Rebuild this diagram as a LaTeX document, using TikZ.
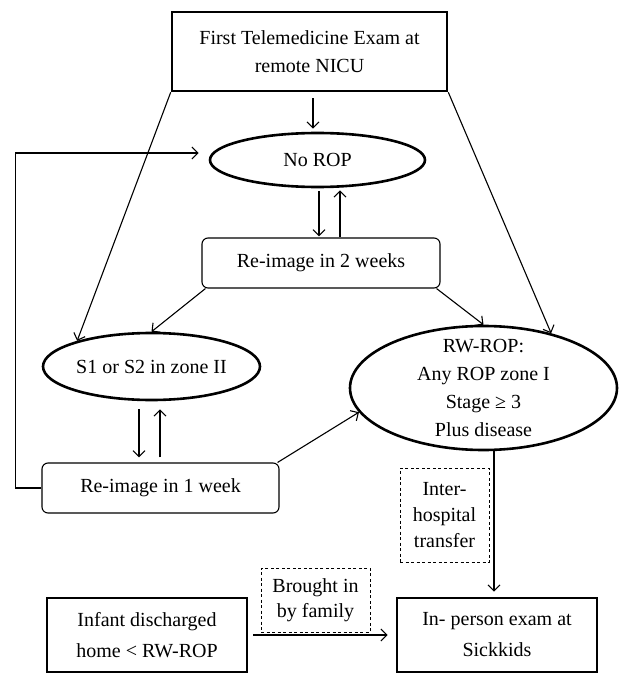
\documentclass[tikz,border=0pt]{standalone}
\usepackage{fontspec}
\setmainfont{Liberation Serif}
\usetikzlibrary{shapes.geometric,arrows.meta,calc}
\begin{document}
\begin{tikzpicture}[x=1pt,y=-1pt,
  font=\fontsize{20}{28}\selectfont,
  thickbox/.style={draw, line width=2.6pt, inner sep=0pt, align=center},
  roundbox/.style={draw, line width=1.1pt, rounded corners=6pt, inner sep=0pt, align=center},
  dashbox/.style={draw, line width=1pt, dash pattern=on 3pt off 2.5pt, inner sep=0pt, align=center},
  oval/.style={draw, ellipse, line width=2.6pt, inner sep=0pt},
  arr/.style={line width=1.1pt, -{Straight Barb[length=6pt,width=12pt]}}]
\useasboundingbox (0,0) rectangle (621,676);

\node[thickbox, minimum width=275, minimum height=79] (top) at (309.5,51.5) {First Telemedicine Exam at\\remote NICU};
\node[oval, minimum width=215, minimum height=54] (norop) at (317.5,160) {};
\node (noropt) at (norop.center) {No ROP};
\node[roundbox, minimum width=238, minimum height=50] (re2) at (321,263) {Re-image in 2 weeks};
\node[oval, minimum width=217, minimum height=67] (s1) at (151.5,366.5) {};
\node (s1t) at (s1.center) {S1 or S2 in zone II};
\node[oval, minimum width=267, minimum height=124] (rw) at (483.5,388) {};
\node[align=center] (rwt) at (rw.center) {RW-ROP:\\Any ROP zone I\\Stage ≥ 3\\Plus disease};
\node[roundbox, minimum width=237, minimum height=50] (re1) at (160.5,488) {Re-image in 1 week};
\node[dashbox, minimum width=89, minimum height=94, font=\fontsize{20}{26}\selectfont] (inter) at (444.5,515) {Inter-\\hospital\\transfer};
\node[dashbox, minimum width=109, minimum height=64, font=\fontsize{20}{25}\selectfont] (brought) at (315.5,600) {Brought in\\by family};
\node[thickbox, minimum width=200, minimum height=74, font=\fontsize{20}{31}\selectfont] (infant) at (147,635) {Infant discharged\\home < RW-ROP};
\node[thickbox, minimum width=200, minimum height=74, font=\fontsize{20}{31}\selectfont] (inperson) at (497,635) {In- person exam at\\Sickkids};

% connectors
\draw[arr, shorten <=6pt, shorten >=3pt] ([xshift=3.5pt]top.south) -- ([xshift=-4.5pt]norop.north);
\draw[arr] ($(norop.south)+(1.5,3)$) -- ($(re2.north)+(-2,-1)$);
\draw[arr] ($(re2.north)+(19,0)$) -- ($(norop.south)+(22.5,2)$);
\draw[arr] (re1.west) -- ++(-26,0) |- ([xshift=-10pt,yshift=7pt]norop.west);
\draw[arr] (top.south west) -- (s1.161);
\draw[arr] (top.south east) -- (rw.39);
\draw[arr] ([xshift=4pt]re2.south west) -- (s1.north);
\draw[arr] ([xshift=-4pt]re2.south east) -- (rw.north);
\draw[arr] ($(s1.south)+(-12.5,8)$) -- ($(re1.north)+(-21.5,-5)$);
\draw[arr] ($(re1.north)+(-0.5,-5)$) -- ($(s1.south)+(8.5,8)$);
\draw[arr] ([xshift=-2pt]re1.north east) -- (rw.191);
\draw[arr] ($(rw.south)+(10.5,0)$) -- ($(inperson.north)+(-3,-5)$);
\draw[arr] ([xshift=5pt]infant.east) -- ([xshift=-8pt]inperson.west);
\end{tikzpicture}
\end{document}
